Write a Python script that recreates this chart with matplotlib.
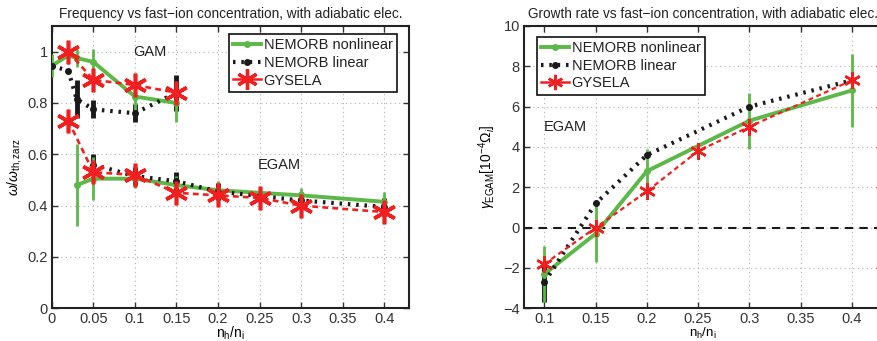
import numpy as np
import matplotlib
matplotlib.use("Agg")
import matplotlib.pyplot as plt
from matplotlib.lines import Line2D

plt.rcParams['font.family'] = ['Liberation Sans', 'DejaVu Sans']
plt.rcParams['mathtext.fontset'] = 'custom'
plt.rcParams['mathtext.rm'] = 'Liberation Sans'
plt.rcParams['mathtext.it'] = 'Liberation Sans:italic'
plt.rcParams['mathtext.bf'] = 'Liberation Sans:bold'

green = '#5cb848'
red = '#f02020'
black = '#1a1a1a'

# ---- frequency data (left panel) ----
# NEMORB nonlinear, GAM branch
nl_gam_x = [0.0, 0.02, 0.03, 0.05, 0.1, 0.15]
nl_gam_y = [0.945, 0.985, 0.975, 0.96, 0.825, 0.80]
nl_gam_err = [0.045, 0.035, 0.035, 0.05, 0.075, 0.075]
# NEMORB nonlinear, EGAM branch
nl_egam_x = [0.03, 0.05, 0.1, 0.15, 0.2, 0.3, 0.4]
nl_egam_y = [0.48, 0.505, 0.505, 0.48, 0.46, 0.44, 0.415]
nl_egam_err = [0.16, 0.085, 0.035, 0.035, 0.035, 0.03, 0.04]
# NEMORB linear, GAM branch
lin_gam_x = [0.0, 0.02, 0.03, 0.05, 0.1, 0.15]
lin_gam_y = [0.945, 0.925, 0.815, 0.775, 0.76, 0.84]
lin_gam_err = [0.0, 0.0, 0.075, 0.035, 0.035, 0.07]
# NEMORB linear, EGAM branch
lin_egam_x = [0.05, 0.1, 0.15, 0.2, 0.3, 0.4]
lin_egam_y = [0.56, 0.515, 0.495, 0.455, 0.42, 0.395]
lin_egam_err = [0.04, 0.035, 0.035, 0.035, 0.035, 0.035]
# GYSELA
gys_gam_x = [0.02, 0.05, 0.1, 0.15]
gys_gam_y = [1.0, 0.89, 0.87, 0.84]
gys_egam_x = [0.02, 0.05, 0.1, 0.15, 0.2, 0.25, 0.3, 0.4]
gys_egam_y = [0.73, 0.53, 0.52, 0.45, 0.44, 0.43, 0.40, 0.375]

# ---- growth rate data (right panel) ----
gr_nl_x = [0.1, 0.15, 0.2, 0.3, 0.4]
gr_nl_y = [-2.3, -0.3, 2.8, 5.3, 6.8]
gr_nl_err = [1.4, 1.4, 1.1, 1.4, 1.8]
gr_lin_x = [0.1, 0.15, 0.2, 0.3, 0.4]
gr_lin_y = [-2.7, 1.2, 3.6, 6.0, 7.3]
gr_lin_err = [1.0, 0.0, 0.0, 0.0, 0.0]
gr_gys_x = [0.1, 0.15, 0.2, 0.25, 0.3, 0.4]
gr_gys_y = [-1.8, 0.0, 1.8, 3.8, 5.0, 7.3]

star = (6, 2, 0)
dot_dash = (0.6, 1.4)
red_dash = (2.2, 1.6)


def style_axes(ax):
    ax.grid(True, linestyle=(0, (1, 3)), color='#b0b0b0', linewidth=0.8)
    ax.tick_params(direction='in', top=True, right=True, labelsize=10.5,
                   length=4, width=1.0, pad=3, colors='#333333')
    for sp in ax.spines.values():
        sp.set_linewidth(1.5)
        sp.set_color('#222222')


def nonlin(ax, x, y, err, ms=4, ew=2.0):
    ax.errorbar(x, y, yerr=err, fmt='none', ecolor=green, elinewidth=ew, capsize=0, zorder=3)
    ax.plot(x, y, color=green, lw=2.8, marker='o', ms=ms, mfc=green, mec=green, zorder=4)


def linear(ax, x, y, err, ms=4):
    e = np.array(err)
    keep = e > 0
    ax.errorbar(np.array(x)[keep], np.array(y)[keep], yerr=e[keep], fmt='none',
                ecolor=black, elinewidth=3.5, capsize=0, zorder=3)
    ln, = ax.plot(x, y, color=black, lw=3.0, marker='o', ms=ms, mfc=black, mec=black, zorder=5)
    ln.set_dashes(dot_dash)
    ln.set_dash_capstyle('butt')


def gysela(ax, x, y, ms, mew, lw):
    ln, = ax.plot(x, y, color=red, lw=lw, marker=star, ms=ms, mew=mew, zorder=6)
    ln.set_dashes(red_dash)


fig = plt.figure(figsize=(8.77, 3.41), dpi=100)
ax1 = fig.add_axes([0.059, 0.0959, 0.4075, 0.828])
ax2 = fig.add_axes([0.5975, 0.0959, 0.4087, 0.828])

# left: frequency
style_axes(ax1)
gysela(ax1, gys_gam_x, gys_gam_y, 17, 2.6, 1.9)
gysela(ax1, gys_egam_x, gys_egam_y, 17, 2.6, 1.9)
linear(ax1, lin_gam_x, lin_gam_y, lin_gam_err)
linear(ax1, lin_egam_x, lin_egam_y, lin_egam_err)
nonlin(ax1, nl_gam_x, nl_gam_y, nl_gam_err)
nonlin(ax1, nl_egam_x, nl_egam_y, nl_egam_err)
ax1.set_xlim(0, 0.43)
ax1.set_ylim(0, 1.1)
ax1.set_xticks([0, 0.05, 0.1, 0.15, 0.2, 0.25, 0.3, 0.35, 0.4])
ax1.set_xticklabels(['0', '0.05', '0.1', '0.15', '0.2', '0.25', '0.3', '0.35', '0.4'])
ax1.set_yticks([0, 0.2, 0.4, 0.6, 0.8, 1.0])
ax1.set_yticklabels(['0', '0.2', '0.4', '0.6', '0.8', '1'])
ax1.text(0.118, 1.0, 'GAM', fontsize=10.5, ha='center', va='center', color='#222222')
ax1.text(0.274, 0.56, 'EGAM', fontsize=10.5, ha='center', va='center', color='#222222')
ax1.set_title('Frequency vs fast\u2212ion concentration, with adiabatic elec.',
              fontsize=9.8, pad=6, color='#222222')
ax1.set_ylabel(r'$\omega/\omega_{\rm th,zarz}$', fontsize=10, labelpad=2)
ax1.set_xlabel(r'$\rm n_h/n_i$', fontsize=10, labelpad=-1.5)

# right: growth rate
style_axes(ax2)
ax2.axhline(0, color=black, lw=1.5, dashes=(4, 3), zorder=2)
gysela(ax2, gr_gys_x, gr_gys_y, 12, 1.8, 1.6)
linear(ax2, gr_lin_x, gr_lin_y, gr_lin_err, ms=4)
nonlin(ax2, gr_nl_x, gr_nl_y, gr_nl_err, ms=4)
ax2.set_xlim(0.08, 0.43)
ax2.set_ylim(-4, 10)
ax2.set_xticks([0.1, 0.15, 0.2, 0.25, 0.3, 0.35, 0.4])
ax2.set_xticklabels(['0.1', '0.15', '0.2', '0.25', '0.3', '0.35', '0.4'])
ax2.set_yticks([-4, -2, 0, 2, 4, 6, 8, 10])
ax2.set_yticklabels(['\u22124', '\u22122', '0', '2', '4', '6', '8', '10'])
ax2.text(0.12, 5.0, 'EGAM', fontsize=10.5, ha='center', va='center', color='#222222')
ax2.set_title('Growth rate vs fast\u2212ion concentration, with adiabatic elec.',
              fontsize=9.8, pad=6, color='#222222')
ax2.set_ylabel(r'$\gamma_{\rm EGAM}[10^{-4}\Omega_i]$', fontsize=10, labelpad=4)
ax2.set_xlabel(r'$\rm n_h/n_i$', fontsize=9.5, labelpad=-0.5)


def legend_handles(ms_star, mew_star):
    h_nl = Line2D([], [], color=green, lw=2.8, marker='o', ms=4)
    h_lin = Line2D([], [], color=black, lw=3.0, marker='o', ms=4)
    h_lin.set_dashes(dot_dash)
    h_gys = Line2D([], [], color=red, lw=1.8, marker=star, ms=ms_star, mew=mew_star)
    return [h_nl, h_lin, h_gys]


labels = ['NEMORB nonlinear', 'NEMORB linear', 'GYSELA']
for ax, loc, anchor, ms_s, mew_s in [
        (ax1, 'upper right', (0.966, 0.972), 15, 2.4),
        (ax2, 'upper left', (0.035, 0.962), 11, 1.8)]:
    leg = ax.legend(legend_handles(ms_s, mew_s), labels, loc=loc, bbox_to_anchor=anchor,
                    borderaxespad=0, fontsize=10.5, frameon=True, fancybox=False,
                    framealpha=1, edgecolor='#111111', handlelength=1.9,
                    handletextpad=0.2, labelspacing=0.25, borderpad=0.3)
    leg.get_frame().set_linewidth(1.2)
    for t in leg.get_texts():
        t.set_color('#222222')

fig.savefig('out.png', dpi=100)
